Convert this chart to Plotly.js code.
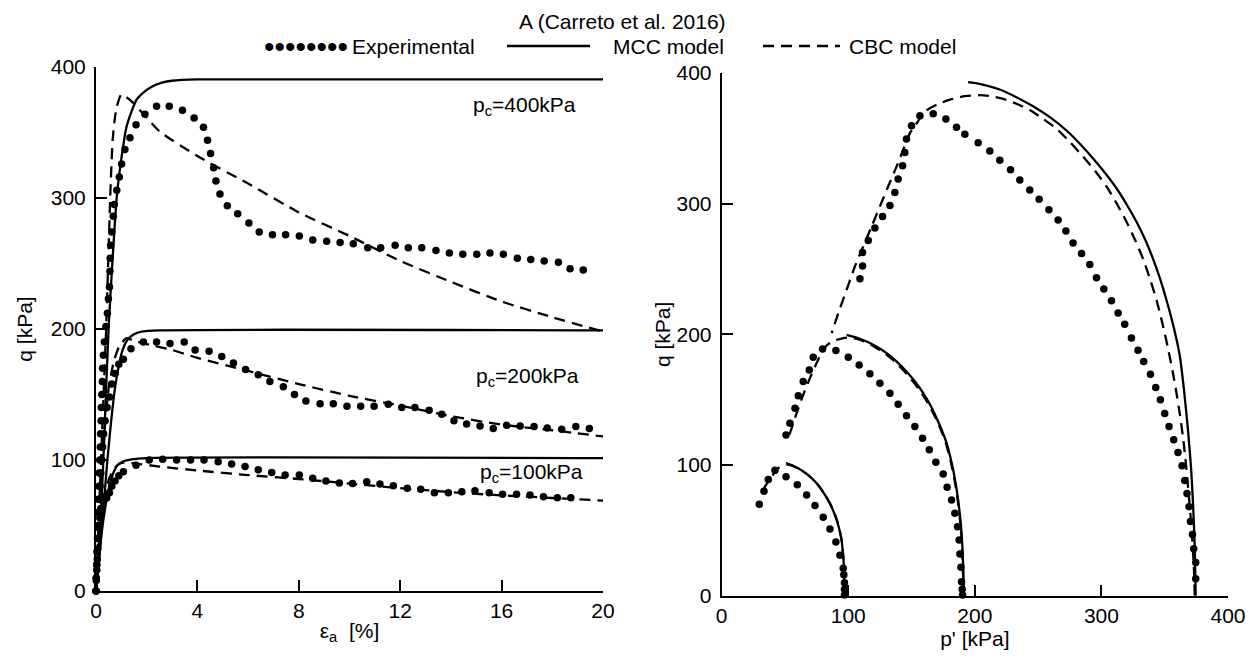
<!DOCTYPE html>
<html><head><meta charset="utf-8">
<script src="https://cdn.plot.ly/plotly-3.0.1.min.js"></script>
<style>html,body{margin:0;padding:0;background:#fff}</style>
</head><body>
<div id="chart" style="width:1258px;height:665px"></div>
<script>
// ---------- Left panel: q vs axial strain ----------
const exp400_ea = [0,0.01,0.03,0.04,0.06,0.07,0.09,0.1,0.12,0.13,0.15,0.17,0.18,0.2,0.21,0.23,0.25,0.26,0.29,0.33,0.39,0.45,0.49,0.53,0.55,0.56,0.58,0.62,0.68,0.72,0.82,0.92,1.01,1.14,1.34,1.58,1.93,2.39,2.89,3.41,3.87,4.24,4.4,4.52,4.64,4.73,4.89,5.18,5.59,6.03,6.44,6.96,7.48,8.02,8.55,9.1,9.63,10.15,10.72,11.23,11.8,12.32,12.85,13.41,13.94,14.47,15.02,15.54,16.07,16.62,17.15,17.68,18.24,18.7,19.22];
const exp400_q  = [0,10,20,30,40,50,60,70,80,90,100,110,120,130,140,150,160,170,180,190,202,212,223,232,244,254,264,274,286,295,306,316,326,337,346,356,364,370,370,367,361,354,344,334,323,313,303,294,288,281,274,272,272,271,268,267,266,265,262,262,264,262,262,260,258,257,257,258,257,254,253,252,251,246,245];

const exp200_ea = [0,0.01,0.03,0.05,0.07,0.09,0.11,0.13,0.16,0.19,0.22,0.26,0.3,0.36,0.44,0.53,0.62,0.75,0.9,1.08,1.38,1.87,2.39,2.92,3.48,3.91,4.46,4.96,5.42,5.9,6.4,6.86,7.39,7.83,8.28,8.84,9.36,9.9,10.44,10.97,11.53,12.06,12.58,13.14,13.64,14.12,14.62,15.15,15.67,16.2,16.73,17.28,17.8,18.37,18.93,19.46];
const exp200_q  = [0,10,20,30,40,50,60,70,80,90,100,110,120,130,140,148,158,166,173,177,185,190,190,189,190,184,183,179,174,169,165,160,156,150,145,143,143,141,141,141,142.5,140,140,138,135,130,127.5,126,124,126.5,126,125.5,124.5,123.5,125.5,124];

const exp100_ea = [0,0.01,0.03,0.05,0.07,0.09,0.12,0.15,0.19,0.25,0.33,0.42,0.53,0.62,0.75,0.9,1.08,1.58,2.1,2.63,3.18,3.73,4.26,4.82,5.35,5.88,6.4,6.93,7.46,8.02,8.55,9.07,9.6,10.12,10.68,11.2,11.73,12.28,12.81,13.35,13.9,14.43,14.95,15.51,16.04,16.59,17.12,17.65,18.2,18.73];
const exp100_q  = [0,8,16,24,32,40,48,56,63,69,72,71,75,80,84,88,91,96,100,100.5,100,100,100,98.7,97,95,92.5,90.5,88.5,88.5,86,84,82.5,82,83.4,81.7,80.4,78.4,77.6,75,75,75.8,76.6,75,73.8,73.8,73.3,72,71.2,71.2];

const mcc400_ea = [0,0.1,0.22,0.33,0.5,0.65,0.82,1.0,1.2,1.4,1.6,1.9,2.2,2.6,3.0,4.0,6.0,20];
const mcc400_q  = [0,30,69,120,202,252,301,330,354,366,375,381,385,388,389.5,390.5,390.5,390.5];
const mcc200_ea = [0,0.15,0.3,0.45,0.6,0.75,0.9,1.05,1.25,1.5,1.8,2.5,20];
const mcc200_q  = [0,30,65,100,130,155,172,184,192,196,198,199,199];
const mcc100_ea = [0,0.1,0.22,0.42,0.55,0.68,0.85,1.08,1.4,2.0,20];
const mcc100_q  = [0,20,44,70,82,90,96,99,100.5,101.5,101.5];

const cbc400_ea = [0,0.1,0.2,0.3,0.4,0.48,0.56,0.66,0.8,1.0,1.2,1.5,2.5,4,6,8,10,12,14,16,18,20];
const cbc400_q  = [0,50,100,150,200,250,300,345,368,379,377,372,351,332,311,289,271,252,236,221,209,198];
const cbc200_ea = [0,0.1,0.2,0.35,0.5,0.7,0.9,1.2,1.5,2,3,4,6,8,10,12,14,16,18,20];
const cbc200_q  = [0,40,80,125,155,175,186,193,191,188.5,184,178,168,158,149,141.5,133.5,127,122.7,118];
const cbc100_ea = [0,0.1,0.2,0.35,0.5,0.7,0.9,1.1,1.5,2.5,4,6,8,10,12,14,16,18,20];
const cbc100_q  = [0,25,50,72,85,93,97,98,97.5,95,92,88.5,85.5,82,78.5,75.5,73,71,69];

// ---------- Right panel: q vs p' ----------
const exp400_p  = [374.5,374.5,372.9,371.9,370.3,369.2,367.6,365.8,363.7,360.5,357.1,353.4,350,346.6,342.9,338.7,333.4,328.9,323.7,318.4,313.2,307.9,301.9,296.1,290.8,284.3,277.6,271.9,265.8,258.5,250.8,243.4,235.5,228.2,219.7,211.8,202.6,192.1,185.5,177.1,167.1,156.6,150,146,144.7,142.9,139.4,136.8,132.9,127.1,121,115.8,111.3,111.3,109.2];
const exp400_pq = [13,25.4,36,46.8,56.7,68.1,78.2,88.1,99.5,109.5,119.4,129.5,139.4,150,159.3,169.4,179.3,187.8,197.2,207.8,216.4,225.8,234.8,243.4,253.4,261.9,269.9,279.1,287.6,295.3,303.3,310.4,318.1,326,333.2,340.4,346.6,353.1,358.4,364.8,368.8,367.3,359.7,349.5,339.2,329,318.8,308.6,298.6,290.2,281.3,271.8,262.6,252.4,242.5];
const exp200_p  = [190.3,190,189.5,189,188.2,187.6,186.3,184.2,181.6,178.1,175,169.2,164,158.7,152.6,146,139.4,132.9,125,117.1,108.6,100,90.2,79.7,72.3,69.2,64.4,60.5,57.9,53.9,50.8];
const exp200_pq = [0.5,5,10.7,21.7,31.9,42.6,52.8,63.1,73.3,83,93.2,102.1,111.6,120.5,129.4,137.8,146.5,155,162.6,169.8,176.6,182.5,187.6,188.7,182.5,172.8,163.9,153.1,143.5,132,123];
const exp100_p  = [97,97,97,96.5,96,93.4,90.2,85.5,80.2,73.7,67.1,59.7,50.8,42.1,36.8,33.4,29.7];
const exp100_pq = [0.5,5,10,16,21,31,41,51,60,69,77,85,91,96,89,80,70];

const mcc400_p  = [374.5,373.8,372.4,370.8,368.4,365.5,361.9,357.2,351.4,346.5,340.8,334.8,327.7,320.2,311.9,302.9,293.4,283.3,272.4,259.8,246,232.8,219.7,207,194.7];
const mcc400_pq = [0,35,69.6,98,126.6,155,183.6,205,226.3,242,257.7,272,286.1,299,311.8,323.5,334.6,345.5,356,365.8,374.5,381.5,387.4,391,393];
const mcc200_p  = [191.3,191.1,190.8,190.3,189.5,188.3,186.8,185,182.9,180.5,177.7,174,169.8,165,159.2,153,146,138.5,130.3,122.5,114.5,106.5,98.7];
const mcc200_pq = [0,11,22.2,35,47.8,60.5,73.3,85,96.2,106.5,116.7,126.5,135.8,145.5,155,163.5,171.5,179,185.6,190.5,194.5,197.5,199.6];
const mcc100_p  = [97,96.9,96.6,95.8,94.7,93,90.8,88.3,85.5,82.3,79,75.2,71,66.5,61.8,56.5,50.8];
const mcc100_pq = [0,10,22,32,42.6,50.5,58,64.5,70.7,76,81,85.8,90,93.6,96.8,99.3,101.4];

const cbc400_p  = [373.7,373.1,371.9,370.3,368.4,366.6,364.5,362.1,359.3,356.2,352.6,348.3,343.5,338.5,332.9,326.6,319.8,312.2,304,295.1,285.5,275.3,264.5,253.8,243.4,232.8,222.4,213,204,192,180.3,170.5,160.5,154,148.7,143.4,138.2,131.5,125,118.4,111.8,105.2,98.7,92.1,86.9];
const cbc400_pq = [0,20.5,41.1,62.5,83.8,102.5,120.9,138,155.1,172,189.3,208,226.3,242,257.7,272.2,286.2,299.9,313.2,325,336,347,357.4,365,371.7,376.5,380.2,382.2,383,382.3,379.6,376,370.5,361.5,354,341.3,328.5,313.2,297.9,282.5,267.2,251.9,234.1,216.2,200.9];
const cbc200_p  = [191,190.8,190.5,189.9,189.2,188,186.5,184.6,182.5,180,177,173.3,169,164,158,151.5,145,137.5,129.5,121.5,114,107,100.5,95.5,90.8,86.5,82.9,78.5,75,69.7,64.4,59.2,53.9,51.8];
const cbc200_pq = [0,11,22,35,48,60.5,73,85,96,106.5,117,126.5,136,145.5,155,163.5,171,178.5,185,190,194,196.5,197.5,197,195.8,194,191.5,185,178,166.5,153.7,139.7,124.4,119.2];
const cbc100_p  = [97,96.9,96.7,95.9,94.8,93.1,91,88.4,85.5,82.3,79,75.1,71,66.6,62,57,52.5,48.5,45,42,39.5,36.8,34.2,32.5];
const cbc100_pq = [0,10,22,32,42,50.5,58,64.5,70.5,76,81,85.8,90,93.6,96.5,99,100.3,99.8,97.8,94.5,91,87.3,83.5,79];

// ---------- Text ----------
const legendTitle = 'A (Carreto et al. 2016)';
const seriesNames = ['Experimental', 'MCC model', 'CBC model'];
const pcLabels = ['p<sub>c</sub>=400kPa', 'p<sub>c</sub>=200kPa', 'p<sub>c</sub>=100kPa'];
const pcLabelPos_ea = [16.92, 17.04, 17.16];
const pcLabelPos_q  = [370, 163.4, 90];
const xTicksLeft = [0, 4, 8, 12, 16, 20];
const yTicks = [0, 100, 200, 300, 400];
const xTicksRight = [0, 100, 200, 300, 400];

const W = 1258, H = 665;
const FONT = '"Liberation Sans", Arial, Helvetica, sans-serif';
const BLK = '#000000';
const dashPat = '11px,7px';

function expTrace(x, y, xa, ya) {
  return {x: x, y: y, xaxis: xa, yaxis: ya, mode: 'markers', type: 'scatter',
    marker: {color: BLK, size: 7.5, symbol: 'circle'}, cliponaxis: false,
    showlegend: false, hoverinfo: 'skip', name: seriesNames[0]};
}
function lineTrace(x, y, xa, ya, dashed) {
  return {x: x, y: y, xaxis: xa, yaxis: ya, mode: 'lines', type: 'scatter',
    line: {color: BLK, width: 2.3, dash: dashed ? dashPat : 'solid', shape: 'spline', smoothing: 0.6},
    showlegend: false, hoverinfo: 'skip', name: dashed ? seriesNames[2] : seriesNames[1]};
}

const traces = [
  lineTrace(mcc400_ea, mcc400_q, 'x', 'y', false),
  lineTrace(mcc200_ea, mcc200_q, 'x', 'y', false),
  lineTrace(mcc100_ea, mcc100_q, 'x', 'y', false),
  lineTrace(cbc400_ea, cbc400_q, 'x', 'y', true),
  lineTrace(cbc200_ea, cbc200_q, 'x', 'y', true),
  lineTrace(cbc100_ea, cbc100_q, 'x', 'y', true),
  expTrace(exp400_ea, exp400_q, 'x', 'y'),
  expTrace(exp200_ea, exp200_q, 'x', 'y'),
  expTrace(exp100_ea, exp100_q, 'x', 'y'),
  lineTrace(mcc400_p, mcc400_pq, 'x2', 'y2', false),
  lineTrace(mcc200_p, mcc200_pq, 'x2', 'y2', false),
  lineTrace(mcc100_p, mcc100_pq, 'x2', 'y2', false),
  lineTrace(cbc400_p, cbc400_pq, 'x2', 'y2', true),
  lineTrace(cbc200_p, cbc200_pq, 'x2', 'y2', true),
  lineTrace(cbc100_p, cbc100_pq, 'x2', 'y2', true),
  expTrace(exp400_p, exp400_pq, 'x2', 'y2'),
  expTrace(exp200_p, exp200_pq, 'x2', 'y2'),
  expTrace(exp100_p, exp100_pq, 'x2', 'y2')
];

const axBase = {
  showline: true, linecolor: BLK, linewidth: 2, mirror: false,
  ticks: 'inside', ticklen: 11, tickwidth: 2, tickcolor: BLK,
  showgrid: false, zeroline: false, fixedrange: true,
  tickfont: {family: FONT, size: 21, color: BLK}
};
const titleFont = {family: FONT, size: 21, color: BLK};

const layout = {
  width: W, height: H,
  margin: {l: 0, r: 0, t: 0, b: 0},
  paper_bgcolor: '#fff', plot_bgcolor: 'rgba(0,0,0,0)',
  showlegend: false,
  font: {family: FONT, color: BLK, size: 21},
  xaxis: Object.assign({}, axBase, {domain: [96/W, 603/W], range: [0, 20], tickvals: xTicksLeft,
    anchor: 'y', title: {text: 'ε<sub>a</sub>  [%]', font: titleFont, standoff: 2}}),
  yaxis: Object.assign({}, axBase, {domain: [1 - 591/H, 1 - 67/H], range: [0, 400], tickvals: yTicks,
    ticklabelstandoff: 4,
    anchor: 'x', title: {text: 'q [kPa]', font: titleFont, standoff: 12}}),
  xaxis2: Object.assign({}, axBase, {domain: [721.7/W, 1228/W], range: [0, 400], tickvals: xTicksRight,
    anchor: 'y2', title: {text: "p' [kPa]", font: titleFont, standoff: 2}}),
  yaxis2: Object.assign({}, axBase, {domain: [1 - 595.7/H, 1 - 73/H], range: [0, 400], tickvals: yTicks,
    ticklabelstandoff: 4,
    anchor: 'x2', title: {text: 'q [kPa]', font: titleFont, standoff: 0}}),
  annotations: [],
  shapes: []
};

// p_c labels (data coordinates on the left panel)
pcLabels.forEach((t, i) => {
  layout.annotations.push({xref: 'x', yref: 'y', x: pcLabelPos_ea[i], y: pcLabelPos_q[i], text: t,
    showarrow: false, xanchor: 'center', yanchor: 'middle', font: {family: FONT, size: 21, color: BLK}});
});

// Legend drawn on top of the figure
const legY = 1 - 46/H;
layout.annotations.push({xref: 'paper', yref: 'paper', x: 622/W, y: 1 - 22/H, text: legendTitle,
  showarrow: false, xanchor: 'center', yanchor: 'middle', font: {family: FONT, size: 21, color: BLK}});
layout.annotations.push({xref: 'paper', yref: 'paper', x: 262/W, y: legY, text: '••••••••',
  showarrow: false, xanchor: 'left', yanchor: 'middle', font: {family: FONT, size: 30, color: BLK}});
layout.annotations.push({xref: 'paper', yref: 'paper', x: 350/W, y: legY, text: seriesNames[0],
  showarrow: false, xanchor: 'left', yanchor: 'middle', font: {family: FONT, size: 21, color: BLK}});
layout.annotations.push({xref: 'paper', yref: 'paper', x: 611/W, y: legY, text: seriesNames[1],
  showarrow: false, xanchor: 'left', yanchor: 'middle', font: {family: FONT, size: 21, color: BLK}});
layout.annotations.push({xref: 'paper', yref: 'paper', x: 847/W, y: legY, text: seriesNames[2],
  showarrow: false, xanchor: 'left', yanchor: 'middle', font: {family: FONT, size: 21, color: BLK}});
layout.shapes.push({type: 'line', xref: 'paper', yref: 'paper', x0: 507/W, x1: 590/W, y0: legY, y1: legY,
  line: {color: BLK, width: 2.3}});
layout.shapes.push({type: 'line', xref: 'paper', yref: 'paper', x0: 763/W, x1: 840/W, y0: legY, y1: legY,
  line: {color: BLK, width: 2.3, dash: dashPat}});

Plotly.newPlot('chart', traces, layout, {displayModeBar: false, staticPlot: true});
</script>
</body></html>
